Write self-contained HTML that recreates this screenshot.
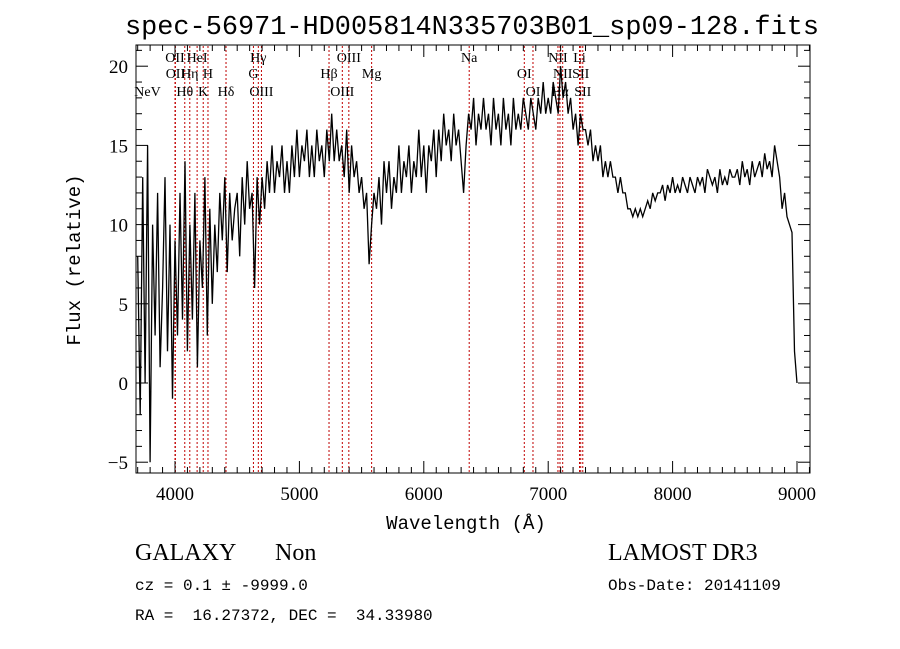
<!DOCTYPE html>
<html><head><meta charset="utf-8"><style>
html,body{margin:0;padding:0;background:#fff;}
svg{display:block;}
text{white-space:pre;}
</style></head><body>
<svg id="chart" width="900" height="649" xmlns="http://www.w3.org/2000/svg">
<rect x="0" y="0" width="900" height="649" fill="#fff"/>
<text x="472" y="34" text-anchor="middle" font-family="Liberation Mono, monospace" font-size="27" textLength="694" lengthAdjust="spacingAndGlyphs">spec-56971-HD005814N335703B01_sp09-128.fits</text>
<g id="lines"></g>
<g id="labels" font-family="Liberation Serif, serif" font-size="14"></g>
<g id="spec"></g>
<rect x="136" y="45" width="674" height="428" fill="none" stroke="#000" stroke-width="1"/>
<g id="axes" font-family="Liberation Serif, serif" font-size="19"></g>
<text x="466" y="529" text-anchor="middle" font-family="Liberation Mono, monospace" font-size="19">Wavelength (Å)</text>
<text transform="translate(80,260) rotate(-90)" text-anchor="middle" font-family="Liberation Mono, monospace" font-size="19">Flux (relative)</text>
<text x="135" y="560" font-family="Liberation Serif, serif" font-size="24">GALAXY</text>
<text x="275" y="560" font-family="Liberation Serif, serif" font-size="24">Non</text>
<text x="135" y="590" font-family="Liberation Mono, monospace" font-size="16">cz = 0.1 ± -9999.0</text>
<text x="135" y="620" font-family="Liberation Mono, monospace" font-size="16" xml:space="preserve">RA =  16.27372, DEC =  34.33980</text>
<text x="608" y="560" font-family="Liberation Serif, serif" font-size="24">LAMOST DR3</text>
<text x="608" y="590" font-family="Liberation Mono, monospace" font-size="16">Obs-Date: 20141109</text>
</svg>
<script>
const lamStart = 3700;
const lamStep = 20;
const fluxValues = [
8,-2,13,0,15,-5,10,3,12,1,
6,13,2,10,-1,9,3,12,4,14,
2,10,4,12,1,9,6,13,3,11,
5,10,7,12,9,13,7,12,9,11,
12,8,13,10,14,11,12,6,13,10,
13,11,14,12,15,12,14,13,15,12,
14,12,15,13,16,13,15,14,16,13,
15,13,16,14,15,13,16,14,17,14,
16,14,15,13,16,12,15,13,14,12,
13,11,12,7.5,10,12,11,13,10,14,
12,14,11,13,12,15,12,14,13,15,
12,14,13,16,13,15,12,15,14,16,
13,16,14,17,15,16,14,17,15,16,
14,12,15,17,16,18,15,17,16,18,
16,17,15,18,16,17,15,18,16,17,
15,18,16,17,16,18,17,16,18,17,
16,18,17,19,17,18,17,19,18,17,
20,18,19,17,18,16,17,15,17,16,
16,15,16,14,15,14,15,13,14,13,
14,13,13,12,13,12,12,11,11,10.5,
11,10.5,11,10.5,11,11.5,11,12,11.5,12,
12,12.5,11.5,12.5,12,13,12,12.5,12,13,
12.5,12,13,12.5,12,13,12.5,13,12,13.5,
13,12.5,13,12,13.5,12.5,13,12.5,13.5,13,
13,13.5,12.5,14,13,13.5,12.5,14,13,13.5,
14,13,14.5,13.5,14,13,15,14,13,11,
12,10.5,10,9.5,2
];
const lineNames = ["NeV","OII","OII","Hθ","Hη","HeI","K","H","Hδ","G","Hγ","OIII","Hβ","OIII","OIII","Mg","Na","OI","OI","NII","Hα","NII","Li","SII","SII"];
const lineWaves = [3426,3726,3729,3798,3835,3889,3934,3969,4102,4304,4340,4363,4861,4959,5007,5175,5894,6300,6364,6548,6563,6583,6707,6716,6731];
const lineRows = [3,1,2,3,2,1,3,2,3,2,1,3,2,3,1,2,1,2,3,1,3,2,1,2,3];
const xTicks = [4000,5000,6000,7000,8000,9000];
const yTicks = [-5,0,5,10,15,20];

const NS="http://www.w3.org/2000/svg";
function xs(l){return 175+(l-4000)*0.1244;}
function ys(f){return 383-f*15.84;}
function xl(l){return 175+(l-3726)*0.1357;}
function mk(tag,attrs,parent){const e=document.createElementNS(NS,tag);for(const k in attrs)e.setAttribute(k,attrs[k]);parent.appendChild(e);return e;}

const gl=document.getElementById('lines'), glab=document.getElementById('labels');
const rowY=[0,62,78,96];
lineWaves.forEach((w,i)=>{
  const x=xl(w);
  if(x>137){
    const ln=mk('line',{x1:x,x2:x,y1:46,y2:472,stroke:'#c00000','stroke-width':1,'stroke-dasharray':'2,2'},gl);
    
    
  }
  const t=mk('text',{x:Math.max(x,129),y:rowY[lineRows[i]],'text-anchor':x<140?'start':'middle'},glab);
  t.textContent=lineNames[i];
  
  
});

const gs=document.getElementById('spec');
let d='';
fluxValues.forEach((f,i)=>{const x=xs(lamStart+i*lamStep);d+=(i?'L':'M')+x.toFixed(1)+','+ys(f).toFixed(1);});
d+='L'+xs(9000).toFixed(1)+','+ys(0).toFixed(1);
const p=mk('path',{d:d,fill:'none',stroke:'#000','stroke-width':1.3},gs);



const ga=document.getElementById('axes');
for(let l=3700;l<=9100;l+=100){
  const x=xs(l);const major=l%1000===0;const len=major?12:6;
  mk('line',{x1:x,x2:x,y1:473,y2:473-len,stroke:'#000'},ga);
  mk('line',{x1:x,x2:x,y1:45,y2:45+len,stroke:'#000'},ga);
}
xTicks.forEach(v=>{const t=mk('text',{x:xs(v),y:500,'text-anchor':'middle'},ga);t.textContent=v;
  
  });
for(let v=-5;v<=21;v++){
  const y=ys(v);const major=v%5===0;const len=major?12:6;
  mk('line',{x1:136,x2:136+len,y1:y,y2:y,stroke:'#000'},ga);
  mk('line',{x1:810,x2:810-len,y1:y,y2:y,stroke:'#000'},ga);
}
yTicks.forEach(v=>{const t=mk('text',{x:128,y:ys(v)+7,'text-anchor':'end'},ga);t.textContent=v<0?'−'+(-v):v;
  
  });
</script>
</body></html>
